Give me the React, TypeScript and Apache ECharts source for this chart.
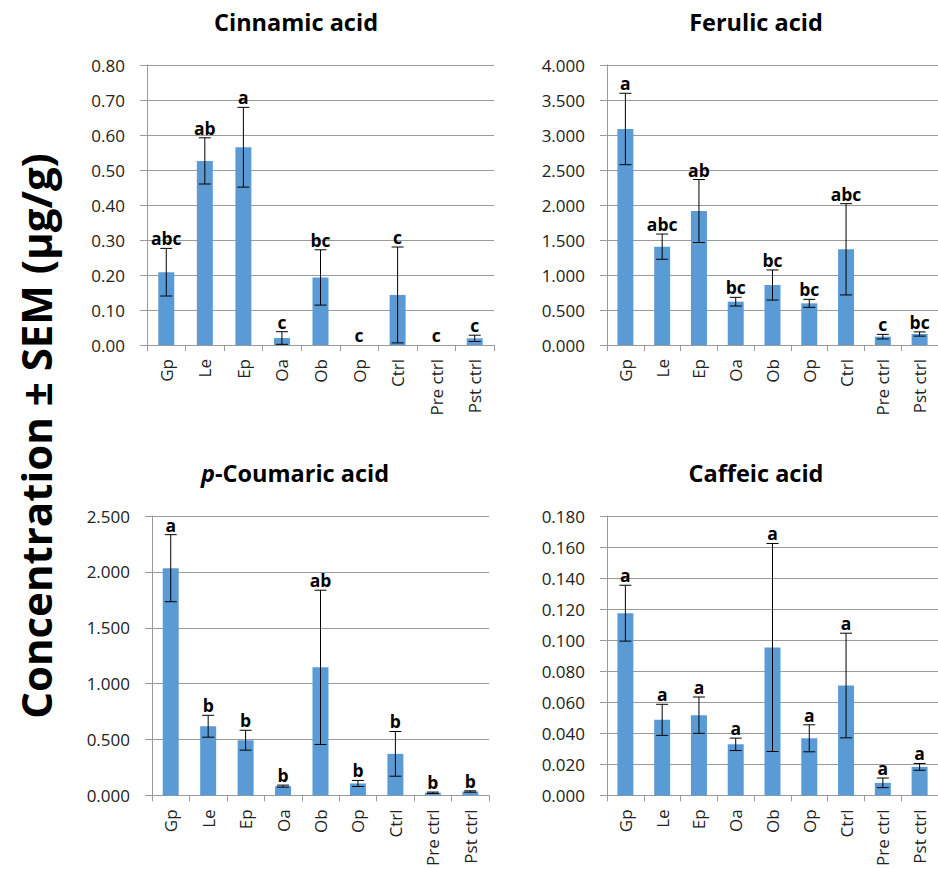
import React, { useEffect, useRef } from "react";
import * as echarts from "echarts";

const categories = ["Gp", "Le", "Ep", "Oa", "Ob", "Op", "Ctrl", "Pre ctrl", "Pst ctrl"];

const cinnamicMean = [0.208, 0.526, 0.565, 0.020, 0.193, 0, 0.143, 0, 0.019];
const cinnamicSem = [0.068, 0.066, 0.114, 0.018, 0.079, 0, 0.137, 0, 0.009];
const cinnamicLetters = ["abc", "ab", "a", "c", "bc", "c", "c", "c", "c"];

const ferulicMean = [3.086, 1.405, 1.914, 0.619, 0.857, 0.595, 1.367, 0.119, 0.157];
const ferulicSem = [0.51, 0.18, 0.45, 0.062, 0.215, 0.057, 0.652, 0.033, 0.03];
const ferulicLetters = ["a", "abc", "ab", "bc", "bc", "bc", "abc", "c", "bc"];

const coumaricMean = [2.033, 0.619, 0.494, 0.083, 1.146, 0.107, 0.372, 0.024, 0.035];
const coumaricSem = [0.30, 0.098, 0.089, 0.009, 0.69, 0.027, 0.2, 0.006, 0.006];
const coumaricLetters = ["a", "b", "b", "b", "ab", "b", "b", "b", "b"];

const caffeicMean = [0.1174, 0.0487, 0.0517, 0.0329, 0.0953, 0.0368, 0.0708, 0.0081, 0.0184];
const caffeicSem = [0.018, 0.010, 0.0117, 0.004, 0.067, 0.0087, 0.0337, 0.0031, 0.0022];
const caffeicLetters = ["a", "a", "a", "a", "a", "a", "a", "a", "a"];

const FONT = "Open Sans";
const AXIS_GRAY = "#9a9a9a";
const TEXT_DARK = "#222222";
const BAR_BLUE = "#5B9BD5";

type Panel = {
  mean: number[];
  sem: number[];
  letters: string[];
  max: number;
  interval: number;
  decimals: number;
  grid: { left: number; top: number; width: number; height: number };
};

const panels: Panel[] = [
  { mean: cinnamicMean, sem: cinnamicSem, letters: cinnamicLetters, max: 0.8, interval: 0.1, decimals: 2,
    grid: { left: 147, top: 65, width: 347, height: 280 } },
  { mean: ferulicMean, sem: ferulicSem, letters: ferulicLetters, max: 4, interval: 0.5, decimals: 3,
    grid: { left: 607, top: 65, width: 340, height: 280 } },
  { mean: coumaricMean, sem: coumaricSem, letters: coumaricLetters, max: 2.5, interval: 0.5, decimals: 3,
    grid: { left: 152, top: 516, width: 337, height: 280 } },
  { mean: caffeicMean, sem: caffeicSem, letters: caffeicLetters, max: 0.18, interval: 0.02, decimals: 3,
    grid: { left: 607, top: 516, width: 338, height: 280 } },
];

function buildOption() {
  const grid: any[] = [];
  const xAxis: any[] = [];
  const yAxis: any[] = [];
  const series: any[] = [];
  panels.forEach((p, k) => {
    grid.push({ ...p.grid, containLabel: false });
    xAxis.push({
      type: "category",
      gridIndex: k,
      data: categories,
      boundaryGap: true,
      axisLine: { show: true, lineStyle: { color: AXIS_GRAY, width: 1 } },
      axisTick: { show: true, length: 6, alignWithLabel: false, interval: 0, lineStyle: { color: AXIS_GRAY } },
      axisLabel: { rotate: 90, interval: 0, margin: 14, fontSize: 17, fontFamily: FONT, color: TEXT_DARK },
      splitLine: { show: false },
    });
    yAxis.push({
      type: "value",
      gridIndex: k,
      min: 0,
      max: p.max,
      interval: p.interval,
      axisLine: { show: true, lineStyle: { color: AXIS_GRAY, width: 1 } },
      axisTick: { show: true, length: 7, lineStyle: { color: AXIS_GRAY } },
      axisLabel: {
        margin: 22,
        fontSize: 17,
        fontFamily: FONT,
        color: TEXT_DARK,
        formatter: (v: number) => v.toFixed(p.decimals),
      },
      splitLine: { show: true, lineStyle: { color: AXIS_GRAY, width: 1 } },
    });
    series.push({
      type: "bar",
      xAxisIndex: k,
      yAxisIndex: k,
      data: p.mean,
      barWidth: 16,
      itemStyle: { color: BAR_BLUE },
      z: 2,
    });
    const letters = p.letters;
    series.push({
      type: "custom",
      xAxisIndex: k,
      yAxisIndex: k,
      z: 5,
      clip: false,
      data: p.mean.map((m, i) => [i, m, p.sem[i]]),
      encode: { x: 0, y: 1 },
      renderItem: (params: any, api: any) => {
        const i = api.value(0);
        const m = api.value(1);
        const s = api.value(2);
        const top = api.coord([i, m + s]);
        const bot = api.coord([i, m - s]);
        const half = 6;
        const children: any[] = [];
        const ls = { stroke: "#000", lineWidth: 1 };
        if (s > 0) {
          children.push({ type: "line", shape: { x1: top[0], y1: top[1], x2: bot[0], y2: bot[1] }, style: ls });
          children.push({ type: "line", shape: { x1: top[0] - half, y1: top[1], x2: top[0] + half, y2: top[1] }, style: ls });
          children.push({ type: "line", shape: { x1: bot[0] - half, y1: bot[1], x2: bot[0] + half, y2: bot[1] }, style: ls });
        }
        children.push({
          type: "text",
          style: {
            text: letters[params.dataIndex],
            x: top[0],
            y: top[1] - 1,
            align: "center",
            verticalAlign: "bottom",
            fontSize: 17.5,
            fontWeight: "bold",
            fontFamily: FONT,
            fill: "#000",
          },
        });
        return { type: "group", children };
      },
    });
  });

  const titleStyle = { fontSize: 23.5, fontWeight: "bold", fontFamily: FONT, fill: "#000", align: "center", verticalAlign: "middle" };
  const graphic: any[] = [
    { type: "text", x: 296, y: 22, style: { ...titleStyle, text: "Cinnamic acid" } },
    { type: "text", x: 756, y: 22, style: { ...titleStyle, text: "Ferulic acid" } },
    {
      type: "text",
      x: 295,
      y: 473,
      style: {
        ...titleStyle,
        text: "{i|p}-Coumaric acid",
        rich: { i: { fontStyle: "italic", fontWeight: "bold", fontSize: 23.5, fontFamily: FONT, fill: "#000" } },
      },
    },
    { type: "text", x: 756, y: 473, style: { ...titleStyle, text: "Caffeic acid" } },
    {
      type: "text",
      x: 35,
      y: 436,
      rotation: Math.PI / 2,
      style: {
        text: "Concentration ± SEM (µg/g)",
        fontSize: 42,
        fontWeight: "bold",
        fontFamily: FONT,
        fill: "#000",
        align: "center",
        verticalAlign: "middle",
      },
    },
  ];

  return {
    animation: false,
    backgroundColor: "#fff",
    textStyle: { fontFamily: FONT },
    grid,
    xAxis,
    yAxis,
    series,
    graphic,
  };
}

export default function App() {
  const ref = useRef<HTMLDivElement>(null);
  useEffect(() => {
    if (!ref.current) return;
    const chart = echarts.init(ref.current, undefined, { renderer: "svg" });
    chart.setOption(buildOption() as any);
    return () => chart.dispose();
  }, []);
  return (
    <div
      ref={ref}
      style={{ position: "fixed", left: 0, top: 0, width: 938, height: 869, background: "#fff" }}
    />
  );
}
